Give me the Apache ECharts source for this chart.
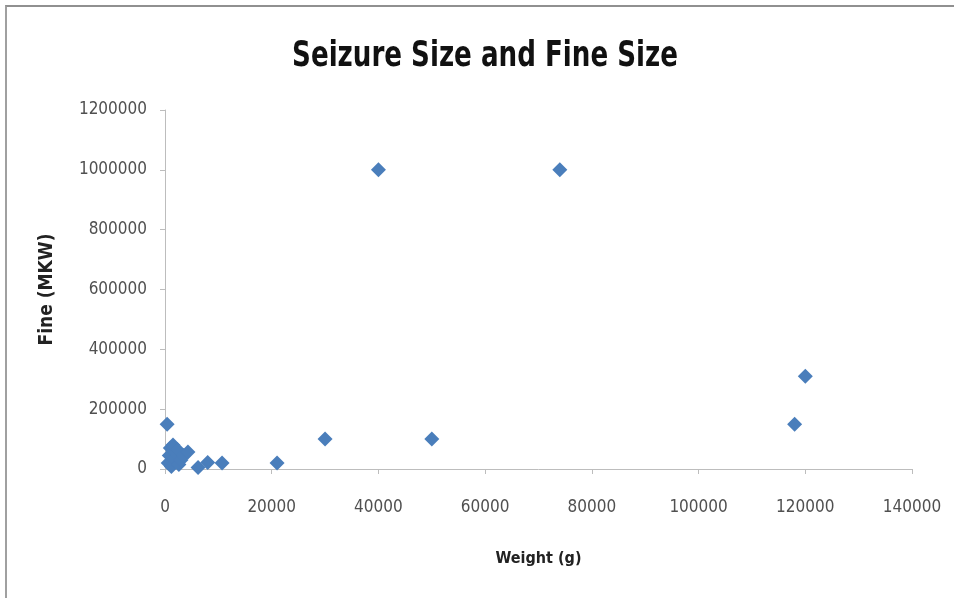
<!DOCTYPE html>
<html>
<head>
<meta charset="utf-8">
<script src="https://cdn.jsdelivr.net/npm/echarts@6/dist/echarts.min.js"></script>
<style>
  html, body { margin: 0; padding: 0; background: #fff; }
  #frame { position: absolute; left: 5px; top: 5px; width: 949px; height: 593px;
           border-left: 2px solid #a0a0a0; border-top: 2px solid #909090; }
  #chart { position: absolute; left: 0; top: 0; width: 954px; height: 598px; }
</style>
</head>
<body>
<div id="frame"></div>
<div id="chart"></div>
<script>
// Seizure weight in grams vs. fine imposed in MKW
const weights = [400, 600, 800, 1000, 1200, 1500, 1800, 2000, 2300, 2600, 3000, 3500, 4300,
                 6200, 8000, 10700, 21000, 30000, 40000, 50000, 74000, 118000, 120000];
const fines   = [150000, 20000, 45000, 70000, 8000, 80000, 35000, 55000, 65000, 15000, 30000, 45000, 57000,
                 5000, 22000, 20000, 20000, 100000, 1000000, 100000, 1000000, 150000, 310000];

const xTicks = { min: 0, max: 140000, interval: 20000 };
const yTicks = { min: 0, max: 1200000, interval: 200000 };

const points = weights.map((w, i) => [w, fines[i]]);

const chart = echarts.init(document.getElementById('chart'), null, { renderer: 'canvas' });
const condensed = '"DejaVu Sans Condensed", "Liberation Sans Narrow", "Liberation Sans", sans-serif';
const labelFont = { fontFamily: condensed, fontSize: 17, color: '#505050', formatter: v => String(v) };

chart.setOption({
  animation: false,
  backgroundColor: 'transparent',
  // title drawn as a horizontally tightened text element
  graphic: [{
    type: 'text',
    x: 485, y: 57,
    scaleX: 0.83,
    style: {
      text: 'Seizure Size and Fine Size',
      font: 'bold 35px ' + condensed,
      fill: '#111',
      align: 'center', verticalAlign: 'middle'
    }
  }],
  grid: { left: 165, right: 42, top: 110, bottom: 129 },
  xAxis: {
    type: 'value', min: xTicks.min, max: xTicks.max, interval: xTicks.interval,
    name: 'Weight (g)', nameLocation: 'middle', nameGap: 82,
    nameTextStyle: { fontFamily: condensed, fontWeight: 'bold', fontSize: 16, color: '#222' },
    axisLine: { show: true, lineStyle: { color: '#bdbdbd', width: 1 } },
    axisTick: { show: true, inside: false, length: 5, lineStyle: { color: '#bdbdbd' } },
    axisLabel: Object.assign({ margin: 30 }, labelFont),
    splitLine: { show: false }
  },
  yAxis: {
    type: 'value', min: yTicks.min, max: yTicks.max, interval: yTicks.interval,
    name: 'Fine (MKW)', nameLocation: 'middle', nameGap: 108, nameRotate: 90,
    nameTextStyle: { fontFamily: condensed, fontWeight: 'bold', fontSize: 19, color: '#222' },
    axisLine: { show: true, lineStyle: { color: '#bdbdbd', width: 1 } },
    axisTick: { show: true, inside: false, length: 5, lineStyle: { color: '#bdbdbd' } },
    axisLabel: Object.assign({ margin: 18 }, labelFont),
    splitLine: { show: false }
  },
  series: [{
    type: 'scatter',
    data: points,
    symbol: 'diamond',
    symbolSize: 15,
    itemStyle: { color: '#4a7ebb', opacity: 1 }
  }]
});
</script>
</body>
</html>
